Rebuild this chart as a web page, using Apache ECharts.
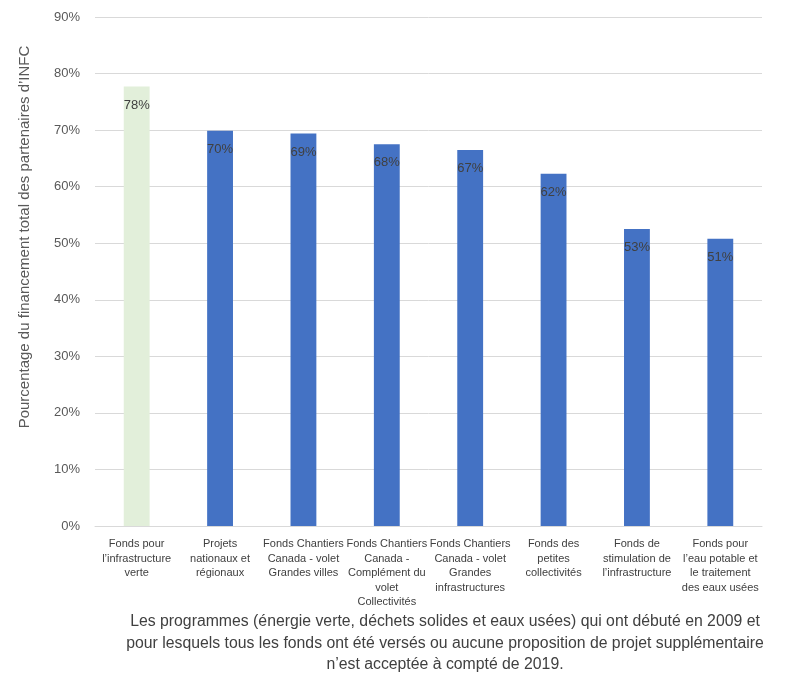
<!DOCTYPE html>
<html><head><meta charset="utf-8">
<script src="https://cdn.jsdelivr.net/npm/echarts@6/dist/echarts.min.js"></script>
<style>html,body{margin:0;padding:0;background:#fff}#c{width:792px;height:686px}</style>
</head><body><div id="c"></div>
<script>
const categories = [
  "Fonds pour\nl’infrastructure\nverte",
  "Projets\nnationaux et\nrégionaux",
  "Fonds Chantiers\nCanada - volet\nGrandes villes",
  "Fonds Chantiers\nCanada -\nComplément du\nvolet\nCollectivités",
  "Fonds Chantiers\nCanada - volet\nGrandes\ninfrastructures",
  "Fonds des\npetites\ncollectivités",
  "Fonds de\nstimulation de\nl’infrastructure",
  "Fonds pour\nl’eau potable et\nle traitement\ndes eaux usées"
];
const values = [77.7, 69.9, 69.4, 67.5, 66.5, 62.3, 52.5, 50.8];
const barColors = ["#E2EFDA", "#4472C4", "#4472C4", "#4472C4", "#4472C4", "#4472C4", "#4472C4", "#4472C4"];
const yTicks = [0, 10, 20, 30, 40, 50, 60, 70, 80, 90];
const yAxisTitle = "Pourcentage du financement total des partenaires d’INFC";
const footnote = "Les programmes (énergie verte, déchets solides et eaux usées) qui ont débuté en 2009 et\npour lesquels tous les fonds ont été versés ou aucune proposition de projet supplémentaire\nn’est acceptée à compté de 2019.";

const chart = echarts.init(document.getElementById('c'), null, {renderer: 'canvas'});
chart.setOption({
  animation: false,
  backgroundColor: '#fff',
  grid: {left: 95, right: 30, top: 17, bottom: 160, containLabel: false},
  xAxis: {
    type: 'category',
    data: categories,
    axisLine: {show: true, lineStyle: {color: '#d9d9d9', width: 1}},
    axisTick: {show: false},
    axisLabel: {
      interval: 0, color: '#404040', fontSize: 11, lineHeight: 14.5,
      fontFamily: 'Liberation Sans, sans-serif', margin: 11
    }
  },
  yAxis: {
    type: 'value',
    min: yTicks[0], max: yTicks[yTicks.length - 1], interval: 10,
    axisLine: {show: false},
    axisTick: {show: false},
    splitLine: {lineStyle: {color: '#d9d9d9', width: 1}},
    axisLabel: {
      color: '#595959', fontSize: 13, fontFamily: 'Liberation Sans, sans-serif',
      margin: 15, formatter: v => v + '%'
    }
  },
  series: [{
    type: 'bar',
    data: values.map((v, i) => ({value: v, itemStyle: {color: barColors[i]}})),
    barWidth: '31%',
    label: {
      show: true, position: 'insideTop', distance: 12,
      color: '#404040', fontSize: 13, fontFamily: 'Liberation Sans, sans-serif',
      formatter: p => Math.round(p.value) + '%'
    }
  }],
  graphic: [
    {
      type: 'text', x: 25, y: 237, rotation: Math.PI / 2,
      style: {
        text: yAxisTitle, align: 'center', verticalAlign: 'middle',
        fontSize: 15, fill: '#595959', fontFamily: 'Liberation Sans, sans-serif'
      }
    },
    {
      type: 'text', x: 445, y: 611,
      style: {
        text: footnote, align: 'center', verticalAlign: 'top', lineHeight: 21.5,
        fontSize: 15.8, fill: '#404040', fontFamily: 'Liberation Sans, sans-serif'
      }
    }
  ]
});
</script></body></html>
